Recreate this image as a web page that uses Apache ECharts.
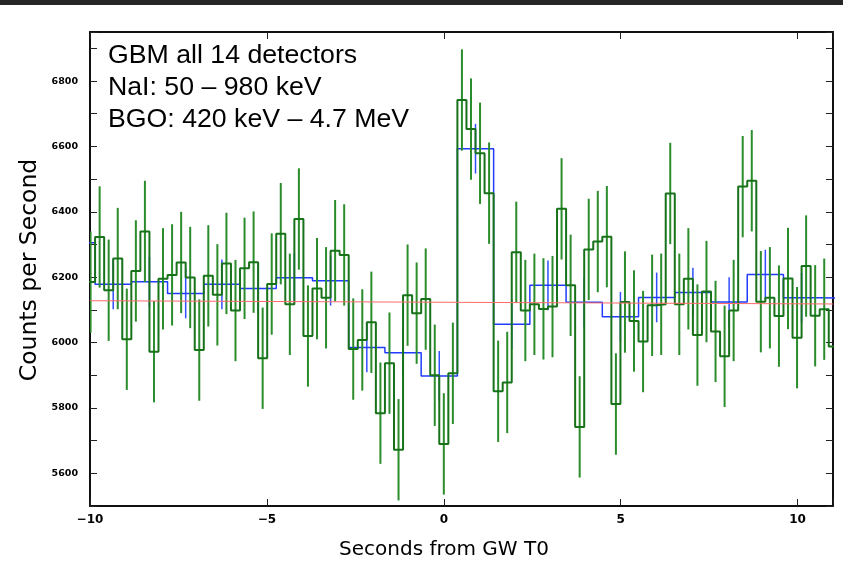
<!DOCTYPE html>
<html><head><meta charset="utf-8">
<script src="https://cdn.jsdelivr.net/npm/echarts@6/dist/echarts.min.js"></script>
<style>html,body{margin:0;padding:0;background:#fff}#c{width:843px;height:576px}</style>
</head><body><div id="c"></div>
<script>
// ---- data ----
const greenStart = -10.112;   // left edge of first 0.256 s bin (s)
const greenWidth = 0.256;     // bin width (s)
const greenRate = [6185,6323,6160,6257,6010,6219,6340,5972,6195,6207,6245,6199,5977,6204,6146,6242,6098,6227,6246,5952,
  6179,6333,6117,6378,6020,6165,6137,6281,6268,5980,6008,6062,5784,5937,5672,6145,6090,6133,5900,5690,
  5906,6742,6653,6579,6457,5851,5878,6276,6098,6117,6103,6110,6409,6175,5742,6285,6309,6324,5812,6124,
  6066,6003,6114,6117,6456,6117,6195,6023,6156,6034,5958,6098,6477,6495,6125,6137,6081,6196,6015,6234,
  6082,6102,5988];
const greenErr = 155;
const blueStart = -10.88;     // left edge of first 1.024 s bin (s)
const blueWidth = 1.024;
const blueRate = [6305,6178,6186,6150,6178,6165,6198,6189,5985,5969,5898,6593,6056,6175,6123,6079,6138,6153,6124,6208,6137,6135];
const blueErr = 76;
const bgFit = [[-10, 6128], [11, 6118]];
const xMin = -10, xMax = 11, xStep = 5;
const yMin = 5500, yMax = 6950, yStep = 100, yLabelStep = 200, yLabelMin = 5600, yLabelMax = 6800;
const annot = ['GBM all 14 detectors', 'NaI: 50 – 980 keV', 'BGO: 420 keV – 4.7 MeV'];

function stepData(start, w, vals) {
  const d = vals.map((v, i) => [start + i * w, v]);
  d.push([start + vals.length * w, vals[vals.length - 1]]);
  return d;
}
function errData(start, w, vals, e) {
  const d = [];
  vals.forEach((v, i) => {
    const c = start + (i + 0.5) * w;
    if (c >= xMin && c <= xMax) d.push([c, v - e, v + e]);
  });
  return d;
}
function errSeries(data, color, width, z) {
  return {
    type: 'custom', z: z, clip: true, silent: true,
    encode: { x: 0, y: [1, 2] },
    data: data,
    renderItem: (params, api) => {
      const p1 = api.coord([api.value(0), api.value(1)]);
      const p2 = api.coord([api.value(0), api.value(2)]);
      return { type: 'line', shape: { x1: p1[0], y1: p1[1], x2: p2[0], y2: p2[1] },
        style: { stroke: color, lineWidth: width } };
    }
  };
}
const frame = { show: true, onZero: false, lineStyle: { color: '#111', width: 2 } };
const tick = { show: true, inside: true, length: 7, lineStyle: { color: '#222', width: 1 } };
function xAx(pos, showLabel) {
  return { type: 'value', position: pos, min: xMin, max: xMax, interval: xStep,
    axisLine: frame, axisTick: tick, splitLine: { show: false },
    axisLabel: { show: showLabel, fontFamily: 'DejaVu Sans', fontWeight: 'bold', fontSize: 12, color: '#000', margin: 8,
      formatter: v => (v % xStep === 0) ? String(v).replace('-', '\u2212') : '' } };
}
function yAx(pos, showLabel) {
  return { type: 'value', position: pos, min: yMin, max: yMax, interval: yStep,
    axisLine: frame, axisTick: tick, splitLine: { show: false },
    axisLabel: { show: showLabel, fontFamily: 'DejaVu Sans', fontWeight: 'bold', fontSize: 9.5, color: '#000', margin: 12,
      formatter: v => (v % yLabelStep === 0 && v >= yLabelMin && v <= yLabelMax) ? String(v) : '' } };
}
const chart = echarts.init(document.getElementById('c'), null, { renderer: 'canvas' });
chart.setOption({
  backgroundColor: '#fff',
  animation: false,
  grid: { left: 90, right: 10, top: 32, bottom: 70 },
  xAxis: [xAx('bottom', true), xAx('top', false)],
  yAxis: [yAx('left', true), yAx('right', false)],
  graphic: [
    { type: 'rect', shape: { x: 0, y: 0, width: 843, height: 5 }, style: { fill: '#262626' } },
    { type: 'text', x: 108, y: 56, style: { text: annot[0], font: '26.7px "Liberation Sans"', fill: '#000', verticalAlign: 'middle' } },
    { type: 'text', x: 108, y: 88, style: { text: annot[1], font: '26.7px "Liberation Sans"', fill: '#000', verticalAlign: 'middle' } },
    { type: 'text', x: 108, y: 120, style: { text: annot[2], font: '26.7px "Liberation Sans"', fill: '#000', verticalAlign: 'middle' } },
    { type: 'text', x: 444, y: 550, style: { text: 'Seconds from GW T0', font: '20px "DejaVu Sans"', fill: '#000', align: 'center', verticalAlign: 'middle' } },
    { type: 'text', x: 30, y: 270, rotation: Math.PI / 2, style: { text: 'Counts per Second', font: '23.5px "DejaVu Sans"', fill: '#000', align: 'center', verticalAlign: 'middle' } }
  ],
  series: [
    errSeries(errData(blueStart, blueWidth, blueRate, blueErr), '#3050ff', 1.5, 2),
    { type: 'line', z: 3, step: 'end', showSymbol: false, symbol: 'none', clip: true, silent: true,
      data: stepData(blueStart, blueWidth, blueRate), lineStyle: { color: '#1f3cff', width: 1.5 } },
    errSeries(errData(greenStart, greenWidth, greenRate, greenErr), '#2a8c2a', 2, 4),
    { type: 'line', z: 5, step: 'end', showSymbol: false, symbol: 'none', clip: true, silent: true,
      data: stepData(greenStart, greenWidth, greenRate), lineStyle: { color: '#17721a', width: 2 } },
    { type: 'line', z: 6, showSymbol: false, symbol: 'none', silent: true,
      data: bgFit, lineStyle: { color: '#ff6a6a', width: 1 } }
  ]
});
</script></body></html>
